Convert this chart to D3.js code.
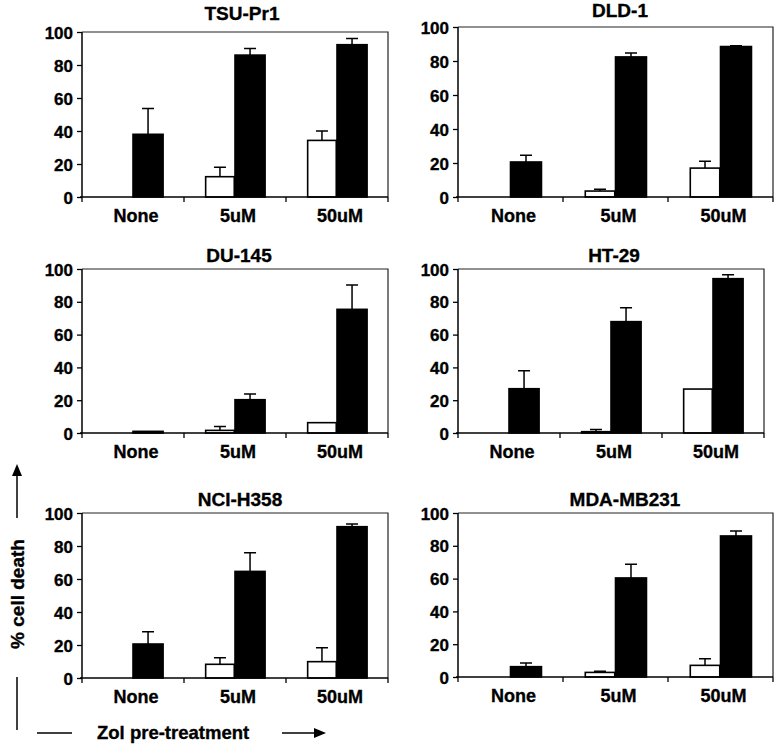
<!DOCTYPE html>
<html>
<head>
<meta charset="utf-8">
<script src="https://cdn.jsdelivr.net/npm/d3@7"></script>
<style>
  html, body { margin: 0; padding: 0; background: #fff; }
  svg { display: block; }
  text { font-family: "Liberation Sans", Arial, Helvetica, sans-serif; font-weight: bold; fill: #000; stroke: #000; stroke-width: 0.35px; }
</style>
</head>
<body>
<svg id="chart" width="775" height="747"></svg>
<script>
// ---------- DATA ----------
const cellLines = ["TSU-Pr1", "DLD-1", "DU-145", "HT-29", "NCI-H358", "MDA-MB231"];
const categories = ["None", "5uM", "50uM"];
const yTicks = [0, 20, 40, 60, 80, 100];

// open (white) bars: mean % cell death, per cell line, per category
const whiteValues = [
  [0, 12.3, 34.3],
  [0, 3.5, 17],
  [0, 1.6, 6.3],
  [0, 0.8, 26.8],
  [0, 8.3, 9.9],
  [0, 2.8, 7.1]
];
const whiteErrors = [
  [0, 5.7, 5.7],
  [0, 1.0, 4.0],
  [0, 2.4, 0],
  [0, 1.4, 0],
  [0, 4.0, 8.5],
  [0, 0.7, 4.1]
];
// filled (black) bars
const blackValues = [
  [38, 86, 92.3],
  [20.6, 82.4, 88.5],
  [1, 20.3, 75.4],
  [27, 67.9, 94.1],
  [20.6, 64.6, 91.7],
  [6.3, 60.4, 86]
];
const blackErrors = [
  [15.7, 4.0, 3.7],
  [3.9, 2.3, 0.5],
  [0, 3.5, 14.8],
  [11, 8.5, 2.4],
  [7.5, 11.3, 1.6],
  [2.2, 8.3, 3.0]
];

const yLabel = "% cell death";
const xLabel = "Zol pre-treatment";

// ---------- LAYOUT ----------
const layout = [
  { l: 82,  r: 388, t: 32,  b: 197, tx: 242, ty: 20 },
  { l: 458, r: 773, t: 27,  b: 197, tx: 620, ty: 17 },
  { l: 82,  r: 388, t: 269, b: 433, tx: 239, ty: 262 },
  { l: 458, r: 764, t: 269, b: 433, tx: 614, ty: 262 },
  { l: 82,  r: 388, t: 513, b: 678, tx: 240, ty: 506 },
  { l: 458, r: 773, t: 513, b: 677, tx: 625, ty: 506 }
];

const svg = d3.select("#chart");
const series = ["white", "black"];

cellLines.forEach((name, i) => {
  const L = layout[i];
  const g = svg.append("g");

  const x = d3.scaleBand().domain(categories).range([L.l, L.r])
    .paddingInner(0.41).paddingOuter(0.205);
  const xs = d3.scaleBand().domain(series).range([0, x.bandwidth()]).padding(0);
  const y = d3.scaleLinear().domain([0, 100]).range([L.b, L.t]);

  // frame (top & right)
  g.append("path")
    .attr("d", `M${L.l},${L.t}H${L.r}V${L.b}`)
    .attr("fill", "none").attr("stroke", "#222").attr("stroke-width", 1.2);

  // title
  g.append("text").attr("x", L.tx).attr("y", L.ty)
    .attr("text-anchor", "middle").attr("font-size", 19).text(name);

  // bars
  const rows = categories.map((c, k) => ({
    cat: c,
    vals: [
      { s: "white", v: whiteValues[i][k], e: whiteErrors[i][k] },
      { s: "black", v: blackValues[i][k], e: blackErrors[i][k] }
    ]
  }));
  const grp = g.selectAll("g.cat").data(rows).join("g")
    .attr("transform", d => `translate(${x(d.cat)},0)`);
  const bars = grp.selectAll("g.bar").data(d => d.vals.filter(v => v.v > 0)).join("g");

  // error bars (upper only)
  bars.filter(d => d.e > 0).append("path")
    .attr("d", d => {
      const cx = xs(d.s) + xs.bandwidth() / 2;
      return `M${cx},${y(d.v)}V${y(d.v + d.e)}M${cx - 6},${y(d.v + d.e)}H${cx + 6}`;
    })
    .attr("fill", "none").attr("stroke", "#000").attr("stroke-width", 1.5);

  bars.append("rect")
    .attr("x", d => xs(d.s) + (d.s === "white" ? 0.75 : 0))
    .attr("width", d => xs.bandwidth() - (d.s === "white" ? 1.5 : 0))
    .attr("y", d => y(d.v))
    .attr("height", d => y(0) - y(d.v))
    .attr("fill", d => d.s === "white" ? "#fff" : "#000")
    .attr("stroke", "#000").attr("stroke-width", 1.6);

  // y axis
  const yAxis = d3.axisLeft(y).tickValues(yTicks).tickSize(5).tickPadding(4);
  const ya = g.append("g").attr("transform", `translate(${L.l},0)`).call(yAxis);
  ya.attr("font-family", null).attr("font-size", null);
  ya.select(".domain").attr("stroke-width", 1.5).attr("d", `M0,${L.t}V${L.b}`);
  ya.selectAll(".tick line").attr("stroke-width", 1.3);
  ya.selectAll(".tick text").attr("font-size", 17).attr("dy", "0.36em");

  // x axis: line with ticks at category boundaries
  const bounds = d3.range(categories.length + 1).map(k => x.range()[0] + k * x.step());
  g.append("line").attr("x1", L.l - 2).attr("x2", L.r).attr("y1", L.b).attr("y2", L.b)
    .attr("stroke", "#000").attr("stroke-width", 1.5);
  g.selectAll("line.xt").data(bounds).join("line")
    .attr("x1", d => d).attr("x2", d => d)
    .attr("y1", L.b).attr("y2", L.b + 5)
    .attr("stroke", "#000").attr("stroke-width", 1.3);
  g.selectAll("text.xl").data(categories).join("text")
    .attr("x", d => x(d) + x.bandwidth() / 2 + 3)
    .attr("y", L.b + 25)
    .attr("text-anchor", "middle").attr("font-size", 18).text(d => d);
});

// ---------- axis labels with arrows ----------
svg.append("text")
  .attr("transform", "translate(24,594) rotate(-90)")
  .attr("text-anchor", "middle").attr("font-size", 19).text(yLabel);
svg.append("line").attr("x1", 17).attr("x2", 17).attr("y1", 518).attr("y2", 474)
  .attr("stroke", "#000").attr("stroke-width", 1.5);
svg.append("path").attr("d", "M17,464L12,476H22Z").attr("fill", "#000");
svg.append("line").attr("x1", 17).attr("x2", 17).attr("y1", 677).attr("y2", 730)
  .attr("stroke", "#000").attr("stroke-width", 1.5);

svg.append("text").attr("x", 97).attr("y", 739)
  .attr("font-size", 18.5).text(xLabel);
svg.append("line").attr("x1", 37).attr("x2", 72).attr("y1", 733).attr("y2", 733)
  .attr("stroke", "#000").attr("stroke-width", 1.5);
svg.append("line").attr("x1", 282).attr("x2", 316).attr("y1", 733).attr("y2", 733)
  .attr("stroke", "#000").attr("stroke-width", 1.5);
svg.append("path").attr("d", "M326,733L314,728V738Z").attr("fill", "#000");
</script>
</body>
</html>
